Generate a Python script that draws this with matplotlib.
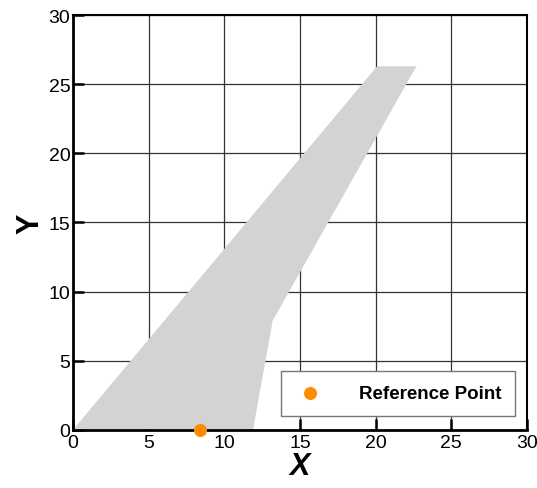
import matplotlib
matplotlib.use("Agg")
import matplotlib.pyplot as plt

plt.rcParams['font.family'] = ['Liberation Sans', 'DejaVu Sans']

# outline of the shaded region (x, y)
region_x = [0.0, 20.1, 22.7, 13.2, 11.9]
region_y = [0.0, 26.3, 26.3, 7.9, 0.0]

# reference point
ref_x = [8.4]
ref_y = [0.0]

ticks = [0, 5, 10, 15, 20, 25, 30]

fig = plt.figure(figsize=(5.37, 4.89), dpi=100)
ax = fig.add_axes([0.136, 0.119, 0.845, 0.848])

ax.grid(True, color='#333333', linewidth=0.9, zorder=0)
ax.set_axisbelow(True)
ax.fill(region_x, region_y, color='#d3d3d3', edgecolor='none', zorder=2)
ax.scatter(ref_x, ref_y, s=70, color='#ff8c00', zorder=5, clip_on=False,
           label='Reference Point')

ax.set_xlim(0, 30)
ax.set_ylim(0, 30)
ax.set_xticks(ticks)
ax.set_yticks(ticks)
ax.tick_params(direction='in', length=8, width=1.8, labelsize=14, pad=2,
               colors='black')
ax.tick_params(axis='x', pad=3)

for side in ['left', 'bottom']:
    ax.spines[side].set_linewidth(2)
for side in ['top', 'right']:
    ax.spines[side].set_linewidth(1.5)

ax.set_xlabel('X', fontsize=22, fontweight='bold', fontstyle='italic', labelpad=0)
ax.set_ylabel('Y', fontsize=22, fontweight='bold', labelpad=2)

leg = ax.legend(loc='lower right', bbox_to_anchor=(0.975, 0.033), fancybox=False,
                edgecolor='#777777', framealpha=1, handletextpad=1.8,
                borderpad=0.75, prop={'weight': 'bold', 'size': 13.5},
                handlelength=1.6, markerscale=1.0, borderaxespad=0)
leg.get_frame().set_linewidth(1.0)

fig.savefig('out.png', dpi=100)
